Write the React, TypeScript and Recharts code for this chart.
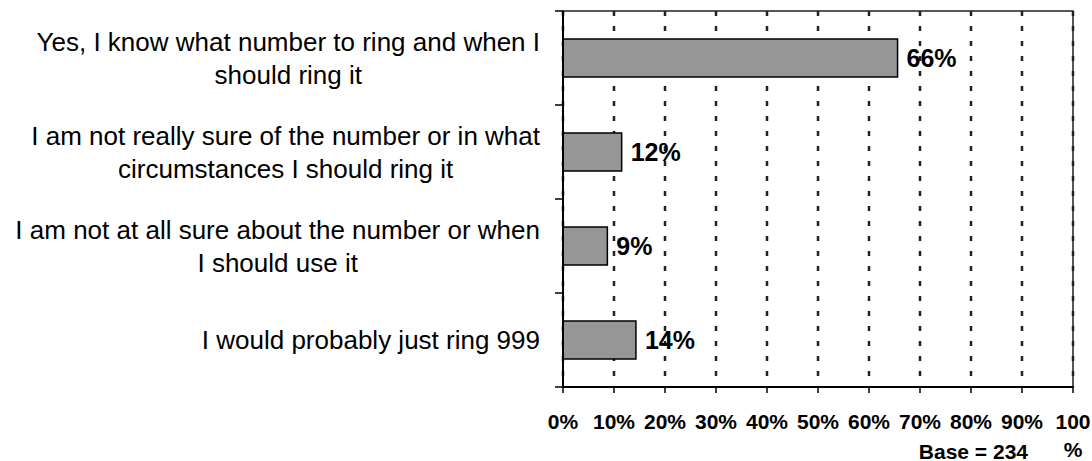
import React from 'react';
import { BarChart, Bar, XAxis, YAxis, CartesianGrid, LabelList, ReferenceArea } from 'recharts';

const categories = [
  'Yes, I know what number to ring and when I should ring it',
  'I am not really sure of the number or in what circumstances I should ring it',
  'I am not at all sure about the number or when I should use it',
  'I would probably just ring 999',
];
const percentages = [65.6, 11.5, 8.7, 14.3];
const xTicks = [0, 10, 20, 30, 40, 50, 60, 70, 80, 90, 100];
const baseNote = 'Base = 234';

const data = categories.map((name, i) => ({ name, value: percentages[i] }));

const FONT_FAMILY = "'Liberation Sans', Arial, Helvetica, sans-serif";
const CAT_FONT_SIZE = 26;
const CAT_FONT = `${CAT_FONT_SIZE}px ${FONT_FAMILY}`;
const TICK_FONT_SIZE = 21;
const TICK_FONT = `bold ${TICK_FONT_SIZE}px ${FONT_FAMILY}`;
const CAT_WRAP_WIDTH = 530;
const CAT_LINE_HEIGHT = 33.5;
const CAT_LABEL_GAP = 23;
const CAT_TICK_LEN = 8;

let ctx: CanvasRenderingContext2D | null = null;
function measure(text: string, font: string): number {
  if (!ctx) {
    const c = document.createElement('canvas');
    ctx = c.getContext('2d');
  }
  if (!ctx) return text.length * 12;
  ctx.font = font;
  return ctx.measureText(text).width;
}

function wrap(text: string, font: string, maxW: number): string[] {
  const words = text.split(' ');
  const lines: string[] = [];
  let cur = '';
  for (const w of words) {
    const test = cur ? cur + ' ' + w : w;
    if (cur && measure(test, font) > maxW) {
      lines.push(cur);
      cur = w;
    } else {
      cur = test;
    }
  }
  if (cur) lines.push(cur);
  return lines;
}

const CategoryTick = (props: any) => {
  const { x, y, payload, index } = props;
  const half = payload && typeof payload.offset === 'number' && payload.offset > 0 ? payload.offset : 47;
  const lines = wrap(String(payload.value), CAT_FONT, CAT_WRAP_WIDTH);
  const widths = lines.map((l) => measure(l, CAT_FONT));
  const maxW = Math.max(...widths);
  const cx = x - CAT_LABEL_GAP - maxW / 2;
  const n = lines.length;
  return (
    <g>
      <line x1={x - CAT_TICK_LEN} x2={x} y1={y - half} y2={y - half} stroke="#000" strokeWidth={1.5} />
      {index === categories.length - 1 && (
        <line x1={x - CAT_TICK_LEN} x2={x} y1={y + half} y2={y + half} stroke="#000" strokeWidth={1.5} />
      )}
      {lines.map((l, i) => (
        <text
          key={i}
          x={cx}
          y={y + (i - (n - 1) / 2) * CAT_LINE_HEIGHT}
          dy="0.36em"
          textAnchor="middle"
          fontFamily={FONT_FAMILY}
          fontSize={CAT_FONT_SIZE}
          fill="#000"
        >
          {l}
        </text>
      ))}
    </g>
  );
};

const ValueTick = (props: any) => {
  const { x, y, payload } = props;
  const label = `${payload.value}%`;
  const lines = measure(label, TICK_FONT) > 48 ? [String(payload.value), '%'] : [label];
  return (
    <g>
      {lines.map((l, i) => (
        <text
          key={i}
          x={x}
          y={y + 34 + i * 28}
          textAnchor="middle"
          fontFamily={FONT_FAMILY}
          fontSize={TICK_FONT_SIZE}
          fontWeight="bold"
          fill="#000"
        >
          {l}
        </text>
      ))}
    </g>
  );
};

const BaseLabel = (props: any) => {
  const vb = props.viewBox || {};
  return (
    <text
      x={vb.x + vb.width - 45}
      y={vb.y + 72}
      textAnchor="end"
      fontFamily={FONT_FAMILY}
      fontSize={TICK_FONT_SIZE}
      fontWeight="bold"
      fill="#000"
    >
      {baseNote}
    </text>
  );
};

export default function App() {
  return (
    <div style={{ position: 'absolute', left: 0, top: 0, width: 1092, height: 461, background: '#fff' }}>
      <BarChart
        width={1092}
        height={461}
        data={data}
        layout="vertical"
        margin={{ top: 11, right: 19, bottom: 24, left: 0 }}
        barCategoryGap={0}
      >
        <CartesianGrid
          horizontal={false}
          vertical={true}
          stroke="#222"
          strokeWidth={2.5}
          strokeDasharray="5 10"
        />
        <ReferenceArea x1={0} x2={100} fill="none" fillOpacity={0} stroke="#222" strokeWidth={1.5} ifOverflow="visible" />
        <XAxis
          type="number"
          domain={[0, 100]}
          ticks={xTicks}
          interval={0}
          height={50}
          tickSize={6}
          tickMargin={2}
          axisLine={{ stroke: '#000', strokeWidth: 2 }}
          tickLine={{ stroke: '#000', strokeWidth: 1.5 }}
          tick={<ValueTick />}
          label={<BaseLabel />}
        />
        <YAxis
          type="category"
          dataKey="name"
          width={563}
          tickSize={0}
          tickMargin={0}
          tickLine={false}
          interval={0}
          axisLine={{ stroke: '#000', strokeWidth: 2 }}
          tick={<CategoryTick />}
        />
        <Bar dataKey="value" fill="#969696" stroke="#000" strokeWidth={1.5} barSize={38} isAnimationActive={false}>
          <LabelList
            dataKey="value"
            position="right"
            offset={9}
            formatter={(v: any) => `${Math.round(Number(v))}%`}
            fill="#000"
            fontSize={25}
            fontWeight="bold"
            fontFamily={FONT_FAMILY}
          />
        </Bar>
      </BarChart>
    </div>
  );
}
